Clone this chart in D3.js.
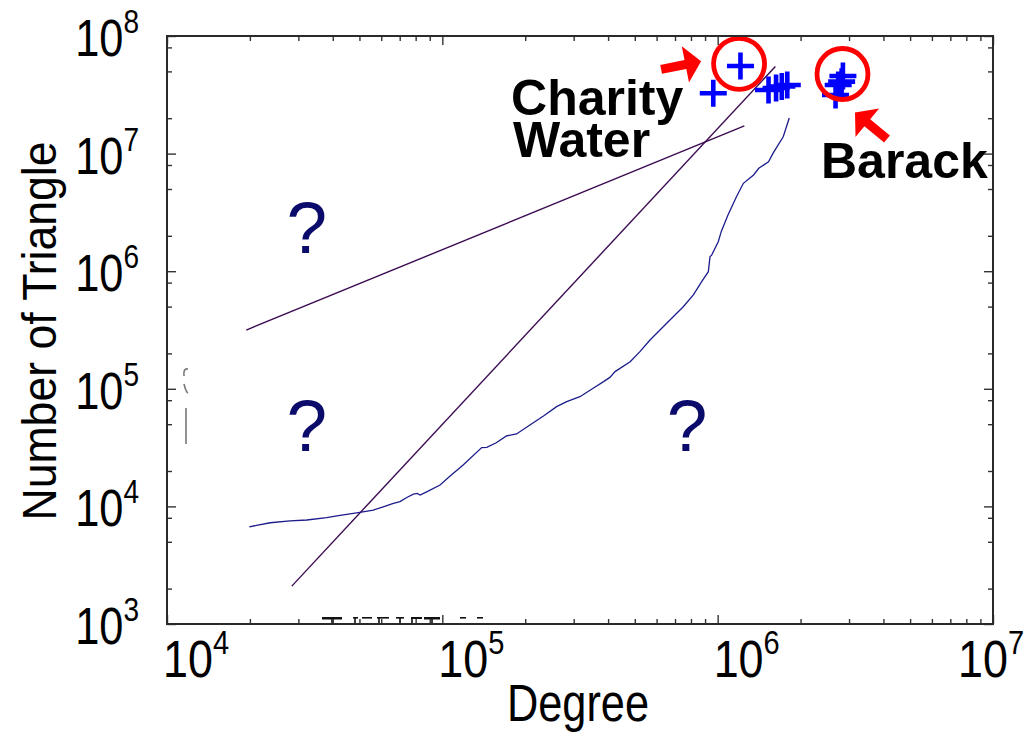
<!DOCTYPE html>
<html>
<head>
<meta charset="utf-8">
<script src="https://cdn.jsdelivr.net/npm/d3@7"></script>
<style>
html, body { margin: 0; padding: 0; background: #fff; }
svg { display: block; }
text { font-family: "Liberation Sans", Arial, sans-serif; }
</style>
</head>
<body>
<svg id="chart" width="1026" height="737"></svg>
<script>
// --- data ---
const curveDegree = [1.99e4, 2.37e4, 2.80e4, 3.22e4, 3.80e4, 4.25e4, 5.02e4, 5.61e4, 6.10e4, 6.64e4,
    7.02e4, 7.43e4, 7.85e4, 8.11e4, 8.30e4, 8.77e4, 9.81e4, 1.07e5, 1.19e5, 1.39e5,
    1.45e5, 1.57e5, 1.71e5, 1.86e5, 2.08e5, 2.33e5, 2.60e5, 2.83e5, 3.16e5, 3.53e5,
    3.85e5, 4.06e5, 4.24e5, 4.81e5, 5.22e5, 5.68e5, 6.53e5, 7.50e5, 8.16e5, 8.75e5,
    9.25e5, 9.38e5, 9.51e5, 1.005e6, 1.03e6, 1.09e6, 1.17e6, 1.24e6, 1.35e6, 1.41e6,
    1.53e6, 1.59e6, 1.73e6, 1.82e6];
const curveTriangles = [6.7e3, 7.26e3, 7.52e3, 7.66e3, 8.02e3, 8.40e3, 8.91e3, 9.31e3, 9.93e3, 1.06e4,
    1.10e4, 1.19e4, 1.27e4, 1.29e4, 1.25e4, 1.33e4, 1.52e4, 1.82e4, 2.25e4, 3.16e4,
    3.18e4, 3.48e4, 3.97e4, 4.13e4, 4.92e4, 5.87e4, 7.05e4, 7.77e4, 8.57e4, 1.01e5,
    1.15e5, 1.25e5, 1.40e5, 1.70e5, 2.07e5, 2.60e5, 3.61e5, 4.99e5, 6.28e5, 8.15e5,
    9.91e5, 1.33e6, 1.37e6, 1.78e6, 2.17e6, 3.01e6, 4.30e6, 5.59e6, 6.58e6, 7.50e6,
    8.53e6, 1.01e7, 1.39e7, 2.01e7];

// two straight reference lines (end points)
const shallowDegree = [1.94e4, 1.25e6];
const shallowTriangles = [3.16e5, 1.72e7];
const steepDegree = [2.84e4, 1.62e6];
const steepTriangles = [2.10e3, 5.5e7];

// outlier accounts drawn as '+'
const pointDegree = [9.64e5, 1.21e6, 1.53e6, 1.63e6, 1.71e6, 1.79e6, 2.68e6, 2.74e6, 2.82e6, 2.85e6];
const pointTriangles = [3.26e7, 5.56e7, 3.47e7, 3.61e7, 3.72e7, 3.83e7, 3.15e7, 3.83e7, 4.09e7, 4.57e7];

// question marks (degree, triangles at baseline)
const questionDegree = [3.22e4, 3.22e4, 7.74e5];
const questionTriangles = [1.43e6, 2.96e4, 2.96e4];

// circled accounts
const highlightNames = ["Charity Water", "Barack"];
const highlightDegree = [1.196e6, 2.84e6];
const highlightTriangles = [5.8e7, 4.75e7];

const xTickExp = [4, 5, 6, 7];
const yTickExp = [3, 4, 5, 6, 7, 8];
const xMinorMult = [2, 3, 4, 5, 6, 7, 8, 9];
const yMinorMult = [2, 5, 8];

// --- layout ---
const svg = d3.select('#chart');
const plotLeft = 167, plotRight = 993, plotTop = 36, plotBottom = 624;
const squeeze = 0.85;  // the labels in the picture are horizontally narrowed

const x = d3.scaleLog().domain([1e4, 1e7]).range([plotLeft, plotRight]);
const y = d3.scaleLog().domain([1e3, 1e8]).range([plotBottom, plotTop]);

const xMajor = xTickExp.map(e => Math.pow(10, e));
const yMajor = yTickExp.map(e => Math.pow(10, e));
const xMinor = [];
xTickExp.slice(0, -1).forEach(e => xMinorMult.forEach(m => xMinor.push(m * Math.pow(10, e))));
const yMinor = [];
yTickExp.slice(0, -1).forEach(e => yMinorMult.forEach(m => yMinor.push(m * Math.pow(10, e))));

const plot = svg.append('g');

// reference lines
const line = d3.line().x(d => x(d[0])).y(d => y(d[1]));
plot.append('path')
    .datum(d3.zip(shallowDegree, shallowTriangles))
    .attr('d', line)
    .attr('fill', 'none')
    .attr('stroke', '#3b0b52')
    .attr('stroke-width', 1.4);
plot.append('path')
    .datum(d3.zip(steepDegree, steepTriangles))
    .attr('d', line)
    .attr('fill', 'none')
    .attr('stroke', '#3b0b52')
    .attr('stroke-width', 1.4);

// measured curve
plot.append('path')
    .datum(d3.zip(curveDegree, curveTriangles))
    .attr('d', line)
    .attr('fill', 'none')
    .attr('stroke', '#1c1c8c')
    .attr('stroke-width', 1.3);

// question marks
plot.selectAll('text.q')
    .data(d3.zip(questionDegree, questionTriangles))
    .enter().append('text')
    .attr('class', 'q')
    .attr('x', d => x(d[0]))
    .attr('y', d => y(d[1]))
    .attr('text-anchor', 'middle')
    .attr('font-size', 73)
    .attr('fill', '#0b0b6b')
    .text('?');

// plus markers
const pm = 13.5;
plot.selectAll('path.plus')
    .data(d3.zip(pointDegree, pointTriangles))
    .enter().append('path')
    .attr('class', 'plus')
    .attr('d', d => {
        const px = x(d[0]), py = y(d[1]);
        return `M${px - pm},${py}H${px + pm}M${px},${py - pm}V${py + pm}`;
    })
    .attr('stroke', '#0000ff')
    .attr('stroke-width', 4.6)
    .attr('fill', 'none');

// red circles
plot.selectAll('circle.hl')
    .data(d3.zip(highlightDegree, highlightTriangles))
    .enter().append('circle')
    .attr('class', 'hl')
    .attr('cx', d => x(d[0]))
    .attr('cy', d => y(d[1]))
    .attr('r', 25.5)
    .attr('fill', 'none')
    .attr('stroke', '#ff0000')
    .attr('stroke-width', 4.8);

// arrows: offsets from the circle centre (tail, tip)
const arrowOffsets = [
    { tail: [-78, 5.5], tip: [-38, -2.5] },
    { tail: [44.5, 65], tip: [12.5, 38.5] }
];
function arrowPath(t, p) {
    const dx = p[0] - t[0], dy = p[1] - t[1];
    const len = Math.sqrt(dx * dx + dy * dy);
    const ux = dx / len, uy = dy / len;
    const nx = -uy, ny = ux;
    const w = 4.5, hw = 18.5, hl = 16;
    const bx = p[0] - ux * hl, by = p[1] - uy * hl;
    const pts = [
        [t[0] + nx * w, t[1] + ny * w],
        [bx + nx * w, by + ny * w],
        [bx + nx * hw, by + ny * hw],
        p,
        [bx - nx * hw, by - ny * hw],
        [bx - nx * w, by - ny * w],
        [t[0] - nx * w, t[1] - ny * w]
    ];
    return 'M' + pts.map(q => q[0].toFixed(1) + ',' + q[1].toFixed(1)).join('L') + 'Z';
}
highlightDegree.forEach((d, i) => {
    const cx = x(d), cy = y(highlightTriangles[i]);
    const o = arrowOffsets[i];
    plot.append('path')
        .attr('d', arrowPath([cx + o.tail[0], cy + o.tail[1]], [cx + o.tip[0], cy + o.tip[1]]))
        .attr('fill', '#ff0000');
});

// name labels, offsets from circle centre
const labelOffsets = [[-228, 51, 42], [-21.5, 104, 0]];
highlightNames.forEach((name, i) => {
    const cx = x(highlightDegree[i]), cy = y(highlightTriangles[i]);
    const o = labelOffsets[i];
    const words = name.split(' ');
    const t = plot.append('text')
        .attr('x', cx + o[0])
        .attr('y', cy + o[1])
        .attr('font-size', 50)
        .attr('font-weight', 'bold')
        .attr('fill', '#000');
    words.forEach((w, j) => {
        t.append('tspan')
            .attr('x', cx + o[0] + (j > 0 ? 2 : 0))
            .attr('dy', j > 0 ? o[2] : 0)
            .text(w);
    });
});

// leftover fragments in the original image
const frag = svg.append('g').attr('stroke', '#777').attr('fill', 'none').attr('stroke-width', 1.6);
frag.append('line').attr('x1', 186).attr('x2', 186).attr('y1', 408).attr('y2', 444);
frag.append('path').attr('d', 'M188,369 Q183,368 184,376 M184,384 Q186,392 188,393');
const fragB = svg.append('g').attr('fill', '#111');
[[322, 342, 2.5], [353, 358, 1.6], [362, 372, 1.6], [377, 389, 1.6], [396, 404, 1.6],
 [411, 422, 2], [424, 440, 2.5], [460, 466, 1.6], [477, 483, 1.6]].forEach(s => {
    fragB.append('rect').attr('x', s[0]).attr('y', plotBottom - 7).attr('width', s[1] - s[0]).attr('height', s[2]);
});
[332, 355, 379, 400, 412, 432].forEach(sx => {
    fragB.append('rect').attr('x', sx - 0.8).attr('y', plotBottom - 6).attr('width', 1.6).attr('height', 6);
});

// --- axes ---
function styleAxis(g) {
    g.select('.domain').remove();
    g.selectAll('.tick line').attr('stroke', '#333').attr('stroke-width', 1.4);
}
svg.append('g').attr('transform', `translate(0,${plotBottom})`)
    .call(d3.axisBottom(x).tickValues(xMinor).tickSize(-5).tickFormat('')).call(styleAxis);
svg.append('g').attr('transform', `translate(0,${plotBottom})`)
    .call(d3.axisBottom(x).tickValues(xMajor).tickSize(-9).tickFormat('')).call(styleAxis);
svg.append('g').attr('transform', `translate(0,${plotTop})`)
    .call(d3.axisTop(x).tickValues(xMinor).tickSize(-5).tickFormat('')).call(styleAxis);
svg.append('g').attr('transform', `translate(0,${plotTop})`)
    .call(d3.axisTop(x).tickValues(xMajor).tickSize(-9).tickFormat('')).call(styleAxis);
svg.append('g').attr('transform', `translate(${plotLeft},0)`)
    .call(d3.axisLeft(y).tickValues(yMinor).tickSize(-5).tickFormat('')).call(styleAxis);
svg.append('g').attr('transform', `translate(${plotLeft},0)`)
    .call(d3.axisLeft(y).tickValues(yMajor).tickSize(-9).tickFormat('')).call(styleAxis);
svg.append('g').attr('transform', `translate(${plotRight},0)`)
    .call(d3.axisRight(y).tickValues(yMinor).tickSize(-5).tickFormat('')).call(styleAxis);
svg.append('g').attr('transform', `translate(${plotRight},0)`)
    .call(d3.axisRight(y).tickValues(yMajor).tickSize(-9).tickFormat('')).call(styleAxis);

svg.append('rect')
    .attr('x', plotLeft).attr('y', plotTop)
    .attr('width', plotRight - plotLeft).attr('height', plotBottom - plotTop)
    .attr('fill', 'none')
    .attr('stroke', '#2a2a2a')
    .attr('stroke-width', 2);

// tick labels with superscript exponents
function powerLabel(sel, e) {
    const t = sel.append('text').attr('font-size', 51).attr('fill', '#000');
    t.append('tspan').text('10');
    t.append('tspan').attr('font-size', 33).attr('dy', -23).text(e);
    return t;
}
xTickExp.forEach(e => {
    const sx = Math.min(x(Math.pow(10, e)) - 4, 1026 - 68);
    const g = svg.append('g').attr('transform', `translate(${sx},677) scale(0.88,1)`);
    powerLabel(g, e).attr('text-anchor', 'start');
});
yTickExp.forEach(e => {
    const g = svg.append('g')
        .attr('transform', `translate(139,${y(Math.pow(10, e)) + 20}) scale(${squeeze},1)`);
    powerLabel(g, e).attr('text-anchor', 'end');
});

// axis titles
svg.append('text')
    .attr('transform', `translate(578,721) scale(${squeeze},1)`)
    .attr('text-anchor', 'middle')
    .attr('font-size', 51)
    .attr('fill', '#000')
    .text('Degree');
svg.append('text')
    .attr('transform', 'translate(56,331) rotate(-90) scale(0.91,1)')
    .attr('text-anchor', 'middle')
    .attr('font-size', 49)
    .attr('fill', '#000')
    .text('Number of Triangle');
</script>
</body>
</html>
